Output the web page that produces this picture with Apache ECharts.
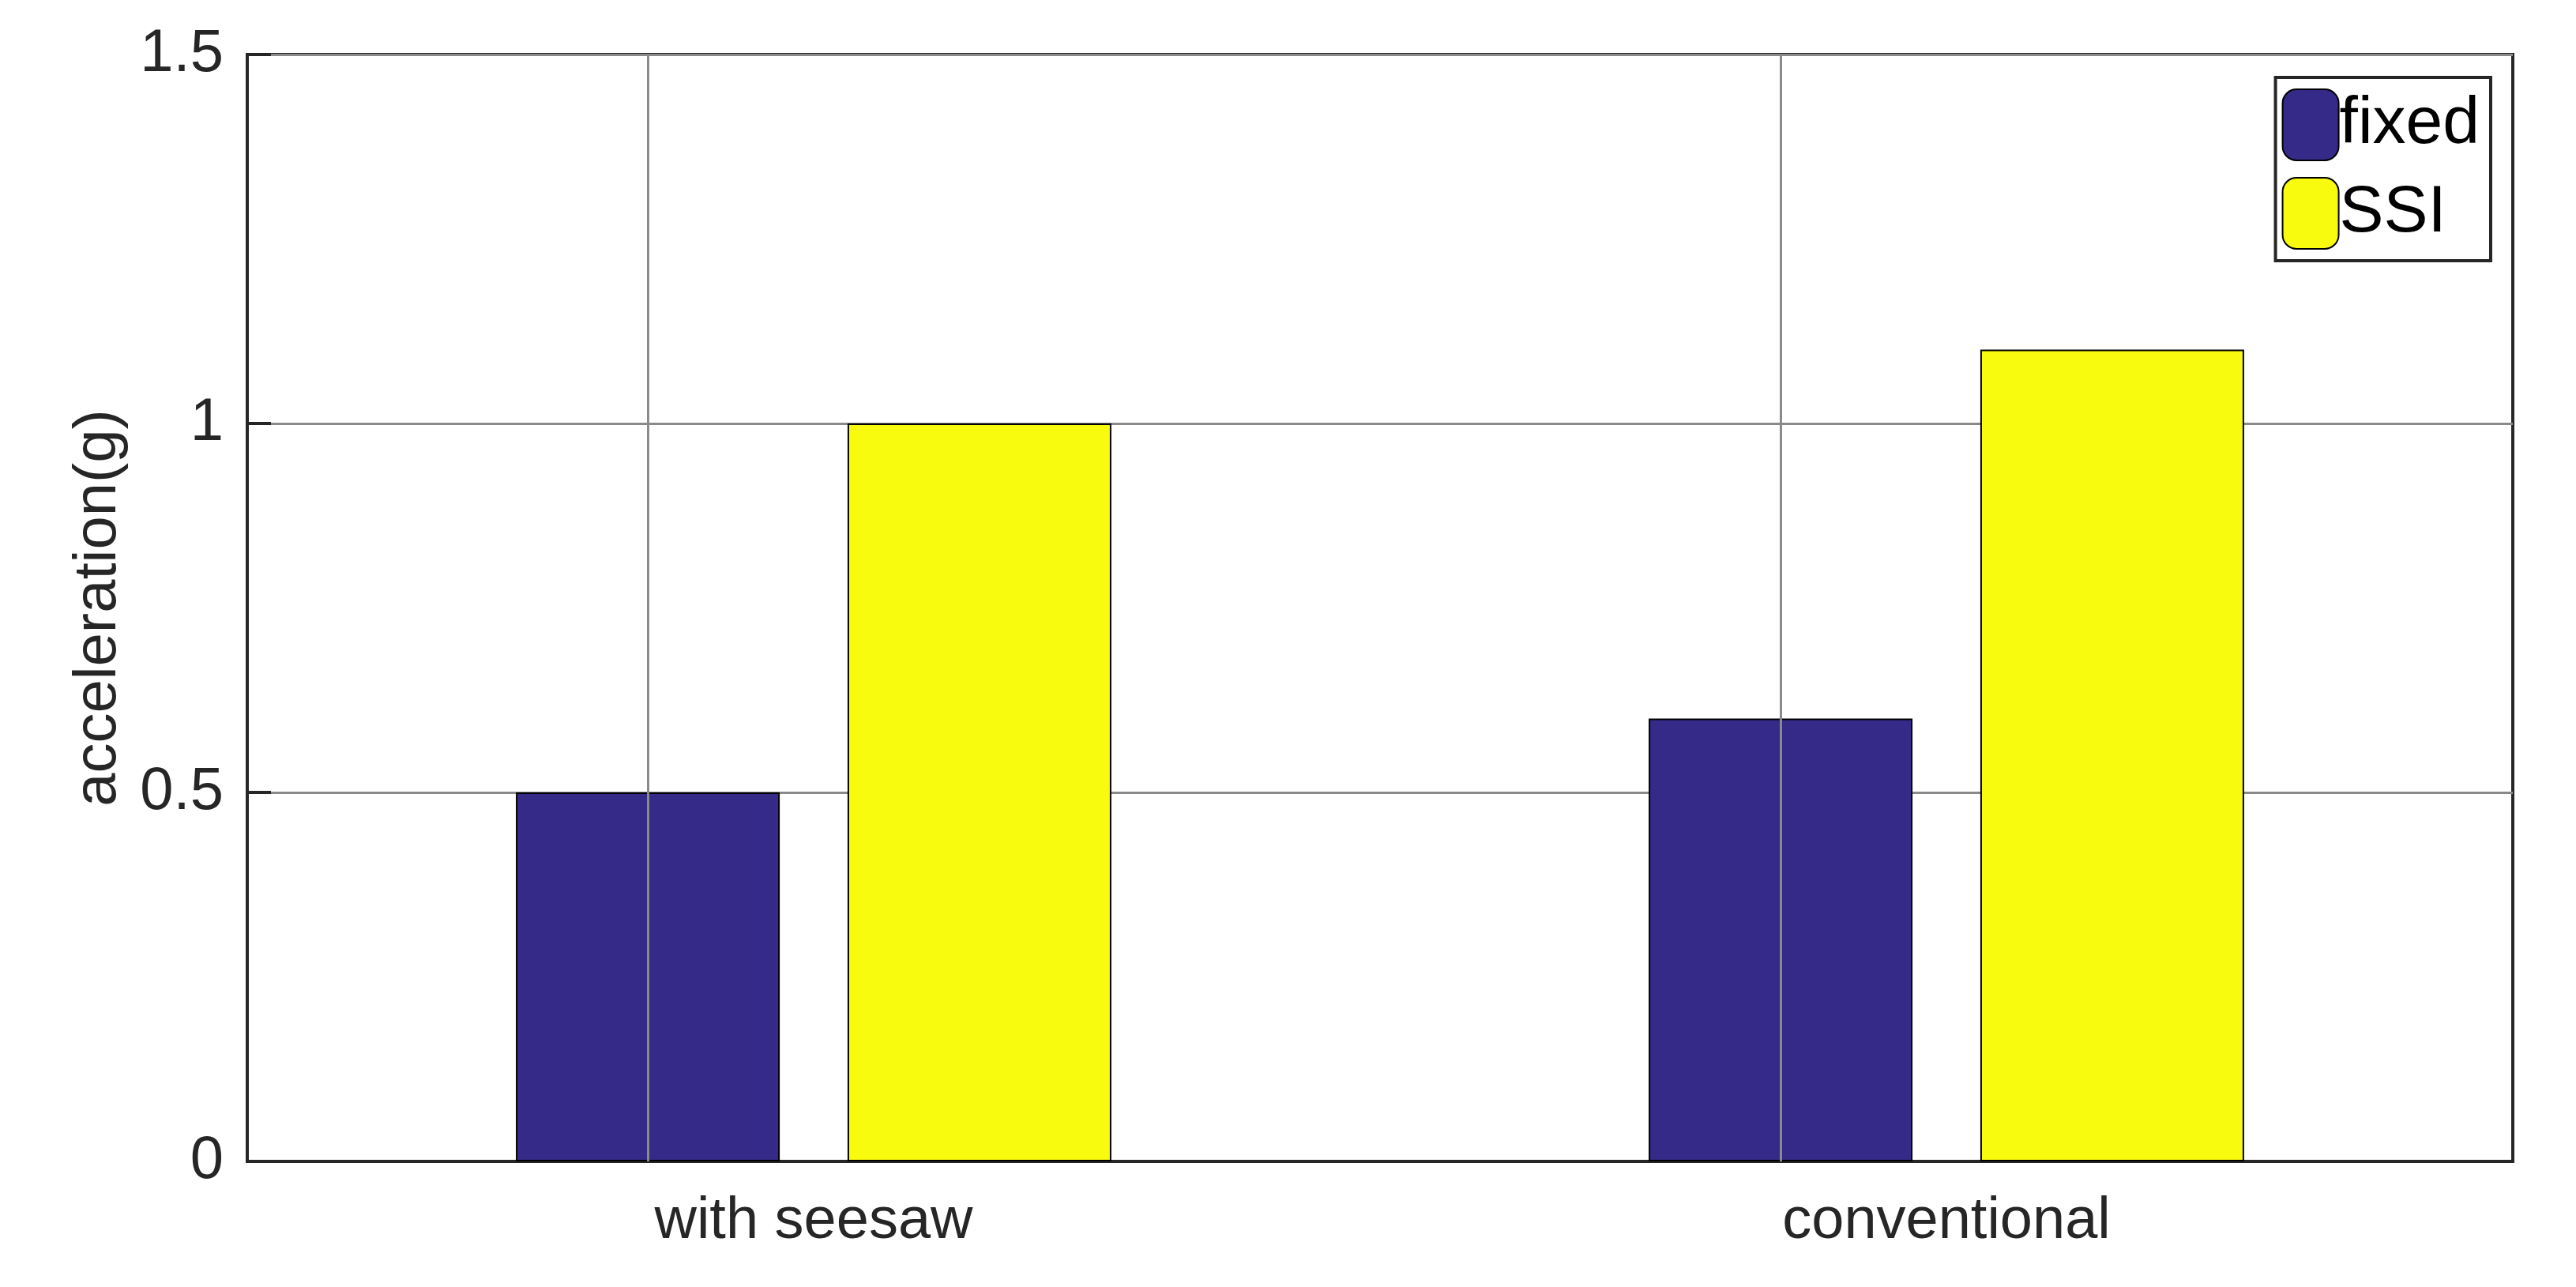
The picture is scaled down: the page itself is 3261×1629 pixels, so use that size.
<!DOCTYPE html>
<html><head><meta charset="utf-8">
<script src="https://cdn.jsdelivr.net/npm/echarts@6/dist/echarts.min.js"></script>
<style>html,body{margin:0;background:#fff}#c{width:3261px;height:1629px}</style>
</head><body><div id="c"></div>
<script>
const categories = ['with seesaw', 'conventional'];
const fixedValues = [0.5, 0.6];
const ssiValues = [1.0, 1.1];
const yTicks = [0, 0.5, 1, 1.5];

const chart = echarts.init(document.getElementById('c'));
const font = 'Liberation Sans, Arial, sans-serif';
chart.setOption({
  animation: false,
  grid: {left: 313, right: 80, top: 69, bottom: 159, show: true, borderColor: '#262626', borderWidth: 4, backgroundColor: '#fff'},
  legend: {
    right: 108, top: 98, orient: 'vertical', itemWidth: 71, itemHeight: 90, itemGap: 20,
    padding: [14, 14, 14, 8], borderColor: '#262626', borderWidth: 4, backgroundColor: '#fff',
    textStyle: {fontFamily: 'Liberation Sans Narrow, Liberation Sans, sans-serif', fontSize: 84, color: '#000', padding: [0, 0, 0, -4]},
    data: ['fixed', 'SSI']
  },
  xAxis: {
    type: 'category', data: categories,
    axisLine: {lineStyle: {color: '#262626', width: 4}},
    axisTick: {show: false},
    axisLabel: {fontFamily: font, fontSize: 74, color: '#262626', margin: 40},
    splitLine: {show: false}
  },
  yAxis: {
    type: 'value', min: 0, max: 1.5, interval: 0.5,
    name: 'acceleration(g)', nameLocation: 'middle', nameGap: 150,
    nameTextStyle: {fontFamily: font, fontSize: 76, color: '#262626'},
    axisLine: {show: true, lineStyle: {color: '#262626', width: 4}},
    axisTick: {show: true, inside: true, length: 30, lineStyle: {color: '#262626', width: 4}},
    axisLabel: {fontFamily: font, fontSize: 76, color: '#262626', margin: 30,
      formatter: v => yTicks.includes(v) ? String(v) : ''},
    splitLine: {lineStyle: {color: '#8a8a8a', width: 3}}
  },
  series: [
    {name: 'fixed', type: 'bar', data: fixedValues, barWidth: 334, barGap: '25.7%',
     itemStyle: {color: '#352a87', borderColor: '#000', borderWidth: 2},
     markLine: {silent: true, symbol: 'none', label: {show: false},
       lineStyle: {color: '#8a8a8a', width: 3, type: 'solid'},
       data: categories.map(c => ({xAxis: c}))}},
    {name: 'SSI', type: 'bar', data: ssiValues, barWidth: 334,
     itemStyle: {color: '#f9fb0e', borderColor: '#000', borderWidth: 2}}
  ]
});
</script></body></html>
